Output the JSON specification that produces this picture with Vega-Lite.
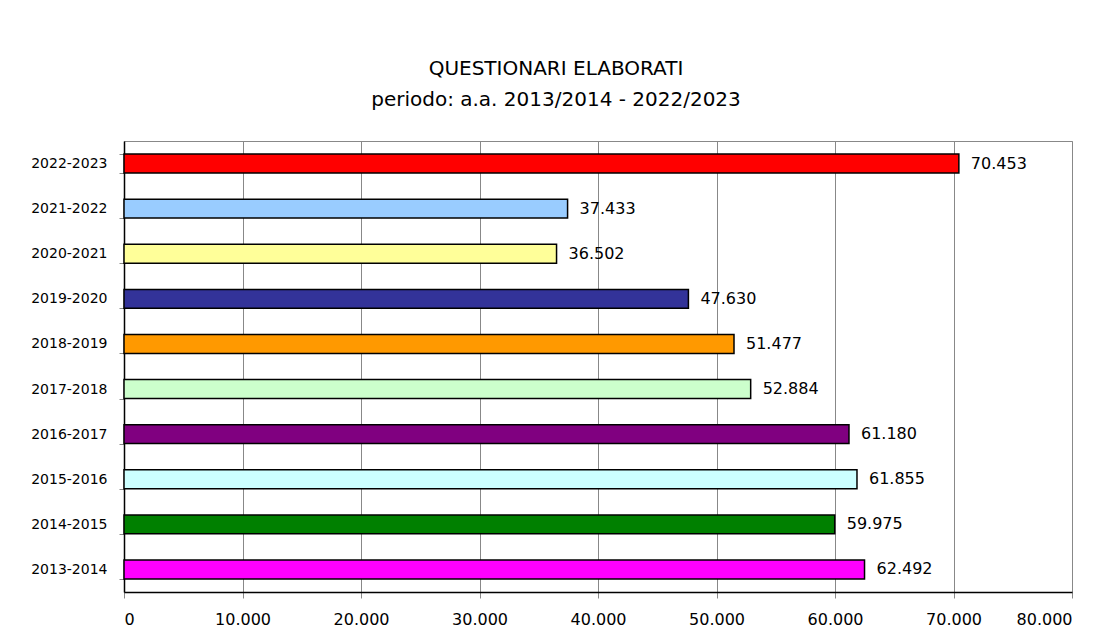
{
  "$schema": "https://vega.github.io/schema/vega-lite/v6.json",
  "autosize": {"type": "none"},
  "width": 948,
  "height": 451,
  "padding": {"left": 124, "top": 141, "right": 38, "bottom": 52},
  "background": "white",
  "config": {
    "locale": {"number": {"decimal": ",", "thousands": ".", "grouping": [3], "currency": ["€", ""]}},
    "view": {"stroke": "#888888", "strokeWidth": 1},
    "font": "DejaVu Sans"
  },
  "title": {
    "text": ["QUESTIONARI ELABORATI", "periodo: a.a. 2013/2014 - 2022/2023"],
    "fontSize": 20,
    "fontWeight": "normal",
    "font": "DejaVu Sans",
    "color": "#000000",
    "lineHeight": 31,
    "anchor": "middle",
    "dx": -42,
    "offset": 24
  },
  "data": {
    "values": [
      {"anno": "2013-2014", "questionari": 62492, "colore": "#FF00FF"},
      {"anno": "2014-2015", "questionari": 59975, "colore": "#008000"},
      {"anno": "2015-2016", "questionari": 61855, "colore": "#CCFFFF"},
      {"anno": "2016-2017", "questionari": 61180, "colore": "#800080"},
      {"anno": "2017-2018", "questionari": 52884, "colore": "#CCFFCC"},
      {"anno": "2018-2019", "questionari": 51477, "colore": "#FF9900"},
      {"anno": "2019-2020", "questionari": 47630, "colore": "#333399"},
      {"anno": "2020-2021", "questionari": 36502, "colore": "#FFFF99"},
      {"anno": "2021-2022", "questionari": 37433, "colore": "#99CCFF"},
      {"anno": "2022-2023", "questionari": 70453, "colore": "#FF0000"}
    ]
  },
  "encoding": {
    "y": {
      "field": "anno",
      "type": "nominal",
      "sort": "descending",
      "scale": {"paddingInner": 0.58, "paddingOuter": 0.29},
      "axis": {
        "title": null,
        "domainColor": "#000000",
        "domainWidth": 1.5,
        "tickBand": "extent",
        "tickColor": "#888888",
        "tickSize": 5,
        "labelPadding": 12,
        "labelFontSize": 14,
        "labelColor": "#000000",
        "labelFont": "DejaVu Sans"
      }
    },
    "x": {
      "field": "questionari",
      "type": "quantitative",
      "scale": {"domain": [0, 80000], "nice": false},
      "axis": {
        "title": null,
        "values": [0, 10000, 20000, 30000, 40000, 50000, 60000, 70000, 80000],
        "format": ",d",
        "domainColor": "#000000",
        "domainWidth": 1.5,
        "tickColor": "#888888",
        "tickSize": 6,
        "labelPadding": 13,
        "labelFontSize": 16,
        "labelColor": "#000000",
        "labelFont": "DejaVu Sans",
        "gridColor": "#888888",
        "gridWidth": 1,
        "gridOpacity": 1
      }
    }
  },
  "layer": [
    {
      "mark": {"type": "bar", "stroke": "#000000", "strokeWidth": 1.5},
      "encoding": {
        "color": {"field": "colore", "type": "nominal", "scale": null, "legend": null}
      }
    },
    {
      "mark": {"type": "text", "align": "left", "dx": 12, "fontSize": 16, "font": "DejaVu Sans", "color": "#000000"},
      "encoding": {
        "text": {"field": "questionari", "type": "quantitative", "format": ",d"}
      }
    }
  ]
}
